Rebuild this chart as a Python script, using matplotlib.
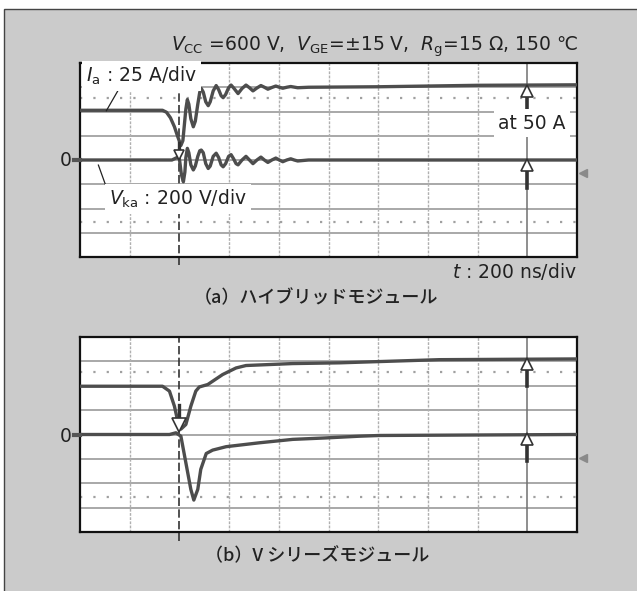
import matplotlib as mpl
mpl.use('Agg')
import matplotlib.pyplot as plt
from matplotlib.patches import Rectangle

plt.rcParams['font.family'] = ['DejaVu Sans', 'Noto Sans CJK JP']
plt.rcParams['mathtext.fontset'] = 'dejavusans'

W, H = 637, 591

# (a) hybrid module -- x in div (200 ns/div), y in div (0 = ground line)
a_ia_t = [0, 1.66, 1.74, 1.82, 1.90, 1.96, 2.03, 2.07, 2.10, 2.13, 2.16, 2.19, 2.23, 2.28,
          2.32, 2.37, 2.41, 2.44, 2.48, 2.53, 2.58, 2.62, 2.68, 2.74, 2.79, 2.84, 2.88,
          2.93, 2.99, 3.04, 3.10, 3.18, 3.26, 3.34, 3.41, 3.48, 3.56, 3.64, 3.71, 3.78,
          3.86, 3.94, 4.01, 4.08, 4.16, 4.24, 4.38, 4.6, 6.0, 8.0, 10.0]
a_ia = [2.05, 2.05, 1.97, 1.74, 1.37, 1.0, 0.6, 0.8, 1.45, 2.1, 2.49, 2.3, 1.7, 1.37,
        1.6, 2.3, 2.8, 2.95, 2.8, 2.4, 2.24, 2.4, 2.85, 3.07, 2.9, 2.65, 2.57,
        2.7, 2.98, 3.09, 2.95, 2.74, 2.95, 3.09, 2.98, 2.85, 2.97, 3.07, 3.0, 2.92,
        2.99, 3.05, 3.0, 2.96, 3.0, 3.03, 2.98, 3.0, 3.02, 3.08, 3.1]
a_vka_t = [0, 1.85, 1.95, 2.0, 2.04, 2.08, 2.11, 2.13, 2.16, 2.19, 2.23, 2.28, 2.32, 2.37,
           2.41, 2.44, 2.48, 2.53, 2.58, 2.62, 2.68, 2.74, 2.79, 2.84, 2.88, 2.93, 2.99,
           3.04, 3.09, 3.14, 3.18, 3.26, 3.34, 3.41, 3.48, 3.56, 3.64, 3.71, 3.78, 3.86,
           3.94, 4.01, 4.08, 4.16, 4.24, 4.31, 4.38, 4.6, 10.0]
a_vka = [0, 0, 0.1, 0.05, -0.6, -0.9, -0.5, 0.1, 0.48, 0.3, -0.2, -0.41, -0.25, 0.15,
         0.38, 0.41, 0.3, -0.15, -0.35, -0.25, 0.15, 0.28, 0.1, -0.2, -0.28, -0.15, 0.15,
         0.22, 0.05, -0.15, -0.2, 0.0, 0.15, 0.0, -0.15, 0.0, 0.12, 0.0, -0.1, 0.0,
         0.08, 0.0, -0.07, 0.0, 0.05, 0.0, -0.04, 0, 0]

# (b) V series module
b_ia_t = [0, 1.66, 1.80, 1.90, 1.96, 2.03, 2.13, 2.23, 2.33, 2.40, 2.57, 2.87, 3.14, 3.34,
          4.28, 5.22, 7.23, 10.0]
b_ia = [1.98, 1.98, 1.78, 1.16, 0.61, 0.22, 0.41, 1.16, 1.78, 1.95, 2.05, 2.46, 2.73, 2.83,
        2.91, 2.94, 3.07, 3.10]
b_vka_t = [0, 1.80, 1.93, 2.03, 2.13, 2.23, 2.29, 2.37, 2.43, 2.54, 2.67, 2.94, 3.61, 4.28,
           4.95, 5.62, 6.03, 10.0]
b_vka = [0, 0, 0.07, -0.07, -1.16, -2.25, -2.69, -2.25, -1.43, -0.78, -0.64, -0.5, -0.34,
         -0.2, -0.14, -0.07, -0.04, 0.0]

# cursor arrows at t = 9 div: (apex, stem end) for Ia and Vka
a_cursor = [(3.03, 2.0), (0.0, -1.16)]
b_cursor = [(3.10, 1.97), (0.0, -1.10)]
a_trig = -0.54
b_trig = -0.95

title = r"$V_{\rm CC}$ =600 V,  $V_{\rm GE}$=±15 V,  $R_{\rm g}$=15 Ω, 150 ℃"
caption_a = "（a）ハイブリッドモジュール"
caption_b = "（b）V シリーズモジュール"

TRACE = '#4d4d4d'
TXT = '#222222'
JP = ['Noto Sans CJK JP', 'DejaVu Sans']


def fx(x):
    return x / W


def fy(y):
    return 1 - y / H


def scope(ax, ia_t, ia, vka_t, vka, cursor, trig, tri_top, tri_size):
    ax.set_xlim(0, 10)
    ax.set_ylim(-4, 4)
    ax.set_xticks([])
    ax.set_yticks([])
    for s in ax.spines.values():
        s.set_linewidth(1.6)
        s.set_color('#111111')
    for y in range(-3, 4):
        ax.axhline(y, color='#9a9a9a', lw=1.2, zorder=1)
    for x in range(1, 10):
        if x in (2, 9):
            continue
        ax.axvline(x, color='#b0b0b0', lw=1.0, ls=(0, (2, 1)), zorder=1)
    for y in (-2.55, 2.55):
        ax.axhline(y, color='#a0a0a0', lw=1.6, ls=(0, (1, 5)), zorder=1)
    ax.plot([2, 2], [-4.35, 4.0], color='#333333', lw=1.2, ls=(0, (5, 2)), clip_on=False, zorder=2)
    ax.axvline(9, color='#707070', lw=1.1, zorder=2)
    ax.plot(ia_t, ia, color=TRACE, lw=2.4, zorder=3, solid_joinstyle='round')
    ax.plot(vka_t, vka, color=TRACE, lw=2.4, zorder=3, solid_joinstyle='round')
    # ground marker on the left edge
    ax.plot([-0.12, 0.0], [0, 0], color='#555555', lw=3, clip_on=False, zorder=3)
    # trigger marker on the right edge
    ax.plot([10.12], [trig], marker='<', ms=6, color='#8a8a8a', clip_on=False, zorder=3)
    # cursor arrows at t = 9 div
    for apex, end in cursor:
        ax.plot([9, 9], [apex - 0.3, end], color='#333333', lw=2.6, zorder=4)
        ax.plot([9], [apex - 0.2], marker='^', ms=8, mfc='white', mec='#333333',
                mew=1.2, zorder=5)
    # trigger cursor on the dashed line
    ax.plot([2, 2], [tri_top, tri_size[0] + 0.15], color='#333333', lw=2.4, zorder=4)
    ax.plot([2], [tri_size[0]], marker='v', ms=tri_size[1], mfc='white', mec='#333333',
            mew=1.2, zorder=5)


fig = plt.figure(figsize=(W / 100, H / 100), dpi=100)
fig.patch.set_facecolor('white')
fig.add_artist(Rectangle((fx(4), -0.1), 1.2, fy(9) + 0.1, transform=fig.transFigure,
                         facecolor='#cbcbcb', edgecolor='#444444', lw=1.0, zorder=-5))

ax1 = fig.add_axes([fx(80), fy(257), fx(577) - fx(80), fy(63) - fy(257)])
ax2 = fig.add_axes([fx(80), fy(532), fx(577) - fx(80), fy(337) - fy(532)])

scope(ax1, a_ia_t, a_ia, a_vka_t, a_vka, a_cursor, a_trig, 0.72, (0.2, 7))
scope(ax2, b_ia_t, b_ia, b_vka_t, b_vka, b_cursor, b_trig, 1.23, (0.38, 10))

# leader lines for the channel labels
ax1.plot([0.80, 0.53], [2.99, 2.03], color='#222222', lw=0.9, clip_on=False, zorder=6)
ax1.plot([0.37, 0.53], [-0.21, -1.12], color='#222222', lw=0.9, clip_on=False, zorder=6)

box = dict(facecolor='white', edgecolor='none', pad=3)
fig.text(fx(578), fy(47), title, ha='right', va='center', fontsize=13.5, color=TXT)
fig.text(fx(86), fy(76), r"$I_{\rm a}$ : 25 A/div", ha='left', va='center', fontsize=13.5,
         color=TXT, bbox=box, zorder=7)
fig.text(fx(109), fy(199), r"$V_{\rm ka}$ : 200 V/div", ha='left', va='center', fontsize=13.5,
         color=TXT, bbox=box, zorder=7)
fig.text(fx(566), fy(123), "at 50 A", ha='right', va='center', fontsize=13.5,
         color=TXT, bbox=box, zorder=7)
fig.text(fx(577), fy(271), r"$t$ : 200 ns/div", ha='right', va='center', fontsize=13.5,
         color=TXT)
fig.text(fx(316), fy(298), caption_a, ha='center', va='center', fontsize=13, color=TXT,
         family=JP, fontweight='medium')
fig.text(fx(317), fy(556), caption_b, ha='center', va='center', fontsize=13, color=TXT,
         family=JP, fontweight='medium')
fig.text(fx(66), fy(161), "0", ha='center', va='center', fontsize=13.5, color=TXT)
fig.text(fx(66), fy(437), "0", ha='center', va='center', fontsize=13.5, color=TXT)

fig.savefig('out.png', dpi=100, facecolor=fig.get_facecolor())
